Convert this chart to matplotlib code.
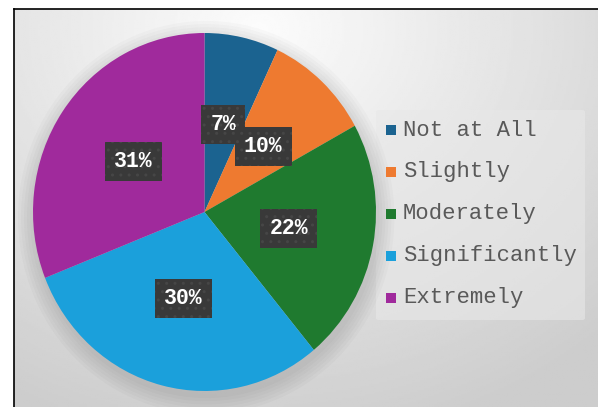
import matplotlib.pyplot as plt
import numpy as np
from matplotlib.patches import Rectangle, FancyBboxPatch, Ellipse

categories = ['Not at All', 'Slightly', 'Moderately', 'Significantly', 'Extremely']
values = [7, 10, 22, 30, 31]
colors = ['#1b6390', '#ee7a30', '#1f7a2f', '#1ba0db', '#a02a9c']

fig = plt.figure(figsize=(5.98, 4.07), dpi=100)
fig.patch.set_facecolor('white')

# background panel with radial gradient
bg = fig.add_axes([14 / 598, 0, 1 - 14 / 598, 1 - 9 / 407])
yy, xx = np.mgrid[0:1:200j, 0:1:300j]
d = np.sqrt(((xx - 0.42) * 1.1) ** 2 + ((yy - 0.05) * 0.9) ** 2)
shade = np.clip(252 - 50 * d, 205, 252) / 255
bg.imshow(shade, cmap='gray', vmin=0, vmax=1, extent=[0, 1, 0, 1],
          origin='upper', aspect='auto')
bg.set_xlim(0, 1)
bg.set_ylim(0, 1)
bg.set_xticks([])
bg.set_yticks([])
for side in ['right', 'bottom']:
    bg.spines[side].set_visible(False)
for side in ['left', 'top']:
    bg.spines[side].set_color('black')
    bg.spines[side].set_linewidth(1.2)

# legend box
bg.add_patch(FancyBboxPatch(((376 - 14) / 584, (407 - 320) / 398), 209 / 584, 210 / 398,
                            boxstyle='round,pad=0,rounding_size=0.005',
                            facecolor='#e8e8e8', edgecolor='none', alpha=0.6))

ax = fig.add_axes([33 / 598, 16 / 407, 343 / 598, 358 / 407])
# soft shadow behind pie
for k in range(6):
    ax.add_patch(Ellipse((0.01, -0.03), 2.02 + 0.035 * k, 2.02 + 0.035 * k,
                         facecolor='black', alpha=0.02, edgecolor='none',
                         clip_on=False))

wedges, texts, autotexts = ax.pie(
    values, colors=colors, startangle=90, counterclock=False,
    autopct='%d%%', pctdistance=0.5,
    wedgeprops=dict(linewidth=0),
    textprops=dict(color='white', fontsize=15.5, fontweight='bold',
                   family='Liberation Mono'))
for t in autotexts:
    t.set_bbox(dict(boxstyle='square,pad=0.42', facecolor='#393939',
                    edgecolor='#464646', linewidth=0, hatch='..'))
ax.set_aspect('auto')
ax.set_xlim(-1, 1)
ax.set_ylim(-1, 1)
ax.axis('off')

# legend
for i, (name, c) in enumerate(zip(categories, colors)):
    yc = 1 - (130 + 42 * i) / 407
    fig.add_artist(Rectangle((386 / 598, yc - 5 / 407), 10 / 598, 10 / 407,
                             facecolor=c, edgecolor='none',
                             transform=fig.transFigure))
    fig.text(403 / 598, yc, name, fontsize=16, family='Liberation Mono',
             color='#595959', va='center', ha='left')

fig.savefig('out.png', dpi=100)
